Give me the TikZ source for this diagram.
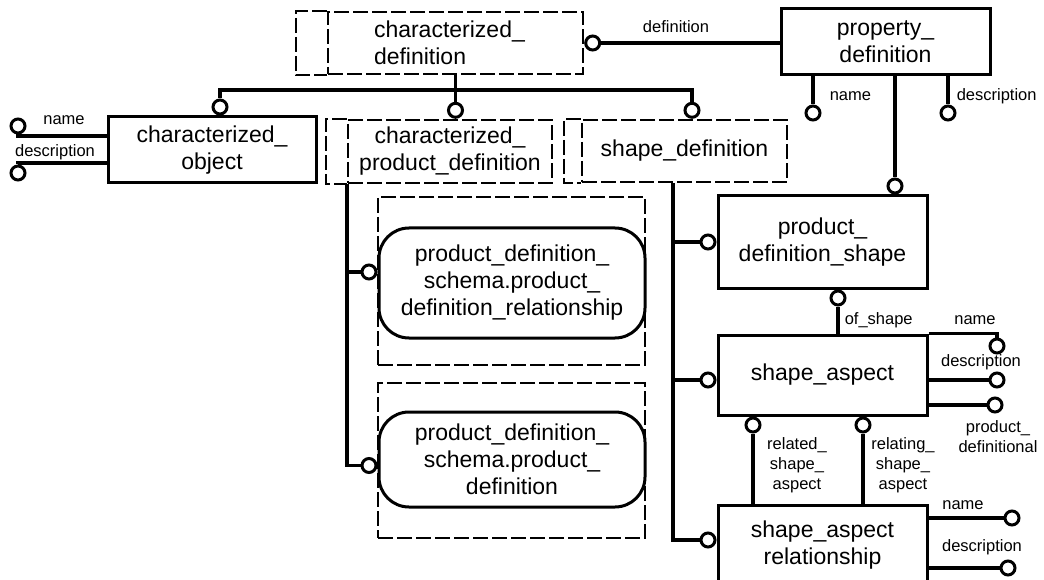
\documentclass[tikz,border=0pt]{standalone}
\usepackage{fontspec}
\setmainfont{Liberation Sans}
\newcommand{\bigtxt}{\fontsize{23}{27}\selectfont}
\newcommand{\smalltxt}{\fontsize{16.5}{20}\selectfont}
\begin{document}
\begin{tikzpicture}[x=1pt,y=-1pt,line width=3.5pt,
		entity/.style={rectangle,draw=black,line width=3pt,align=center,font=\bigtxt,inner sep=0pt},
		dashline/.style={line width=2.4pt,dash pattern=on 15pt off 4pt},
		refbox/.style={entity,dashline},
		schemabox/.style={rectangle,draw=black,dashline},
		rbox/.style={entity,rounded corners=30pt},
		ring/.style={circle,draw=black,fill=white,line width=3pt,minimum size=14pt,inner sep=0pt},
		attr/.style={font=\smalltxt,align=center,inner sep=0pt}]
		\useasboundingbox (0,0) rectangle (1044,580);
		% boxes
		\node[refbox,minimum width=255pt,minimum height=62pt,text width=163pt,align=left](cd) at (455.5,43) {characterized\_\\definition};
		\node[entity,minimum width=209pt,minimum height=66pt](pd) at (885.5,42) {property\_\\definition};
		\node[entity,minimum width=208pt,minimum height=66pt](co) at (212,150) {characterized\_\\object};
		\node[refbox,minimum width=204pt,minimum height=63pt](cpd) at (450,151.5) {characterized\_\\product\_definition};
		\node[refbox,minimum width=205pt,minimum height=62pt](sd) at (684.5,151) {shape\_definition};
		\node[schemabox,minimum width=267pt,minimum height=168pt](schrel) at (511.5,281) {};
		\node[rbox,minimum width=266pt,minimum height=110pt](pdr) at (512,283) {product\_definition\_\\schema.product\_\\definition\_relationship};
		\node[schemabox,minimum width=267pt,minimum height=155pt](schdef) at (511.5,460.5) {};
		\node[rbox,minimum width=266pt,minimum height=95pt](pdd) at (512,459.5) {product\_definition\_\\schema.product\_\\definition};
		\node[entity,minimum width=209pt,minimum height=92pt](pds) at (822.5,242) {product\_\\definition\_shape};
		\node[entity,minimum width=209pt,minimum height=80pt](sa) at (822.5,375) {shape\_aspect};
		\node[entity,minimum width=209pt,minimum height=80pt](sar) at (822.5,545) {shape\_aspect\\relationship};
		\foreach \n/\w in {cd/31,cpd/21,sd/17}
			\draw[dashline] (\n.north west) -- ++(-\w,0) |- (\n.south west);
		% definition
		\node[ring,anchor=west](ringdef) at (cd.east) {};
		\draw (ringdef) -- (ringdef -| pd.west);
		\node[attr](lbldef) at (676,27) {definition};
		% subtypes of characterized_definition
		\coordinate (bar) at (455.5,90);
		\node[ring,anchor=south](ringco) at ([xshift=8pt]co.north) {};
		\node[ring,anchor=south](ringcpd) at (cpd.north -| cd.south) {};
		\node[ring,anchor=south](ringsd) at ([xshift=7.5pt]sd.north) {};
		\draw (cd.south) -- (ringcpd);
		\draw (ringco) -- (ringco |- bar) -- (ringsd |- bar) -- (ringsd);
		% property_definition attributes
		\node[ring](pdname) at (813,113) {};
		\node[ring](pddesc) at (948,113) {};
		\draw (pdname) -- (pdname |- pd.south);
		\draw (pddesc) -- (pddesc |- pd.south);
		\node[attr,anchor=west](lblpdname) at (828,96) {name};
		\node[attr,anchor=west](lblpddesc) at (955,96) {description};
		\node[ring,anchor=south](ringpds) at ([xshift=72.5pt]pds.north) {};
		\draw (ringpds) -- (ringpds |- pd.south);
		% characterized_object attributes
		\node[ring](coname) at (18,126) {};
		\node[ring](codesc) at (18,173) {};
		\draw ([yshift=14pt]co.west) -| (coname);
		\draw ([yshift=-13pt]co.west) -| (codesc);
		\node[attr](lblconame) at (64,120) {name};
		\node[attr](lblcodesc) at (55,152) {description};
		% characterized_product_definition
		\node[ring,anchor=east](ringpdr) at ([yshift=11pt]pdr.west) {};
		\node[ring,anchor=east](ringpdd) at ([yshift=-6pt]pdd.west) {};
		\draw (cpd.south west) |- (ringpdd);
		\draw (ringpdr) -- (ringpdr -| cpd.south west);
		% shape_definition
		\coordinate (sdfoot) at ([xshift=-11.5pt]sd.south);
		\node[ring,anchor=east](ringpdsl) at (pds.west) {};
		\node[ring,anchor=east](ringsa) at ([yshift=-5pt]sa.west) {};
		\node[ring,anchor=east](ringsar) at ([yshift=5pt]sar.west) {};
		\draw (sdfoot) |- (ringsar);
		\draw (ringpdsl) -- (ringpdsl -| sdfoot);
		\draw (ringsa) -- (ringsa -| sdfoot);
		% of_shape
		\node[ring,anchor=north](ringofshape) at ([xshift=15.5pt]pds.south) {};
		\draw (ringofshape) -- (ringofshape |- sa.north);
		\node[attr,anchor=west](lblofshape) at (843,320) {of\_shape};
		% shape_aspect attributes
		\node[ring](saname) at (997,346) {};
		\draw (sa.north east) -- (saname |- sa.north east) -- (saname);
		\node[attr](lblsaname) at (975,320) {name};
		\node[ring](sadesc) at (997,380) {};
		\draw (sadesc) -- (sadesc -| sa.east);
		\node[attr](lblsadesc) at (981,362) {description};
		\node[ring](sapd) at (995,405) {};
		\draw (sapd) -- (sapd -| sa.east);
		\node[attr](lblsapd) at (998,437) {product\_\\definitional};
		% shape_aspect_relationship
		\node[ring,anchor=north](ringrelated) at ([xshift=-69.5pt]sa.south) {};
		\node[ring,anchor=north](ringrelating) at ([xshift=40.5pt]sa.south) {};
		\draw (ringrelated) -- (ringrelated |- sar.north);
		\draw (ringrelating) -- (ringrelating |- sar.north);
		\node[attr](lblrelated) at (797,465) {related\_\\shape\_\\aspect};
		\node[attr](lblrelating) at (903,465) {relating\_\\shape\_\\aspect};
		\node[ring](sarname) at (1012,518) {};
		\draw (sarname) -- (sarname -| sar.east);
		\node[attr](lblsarname) at (963,505) {name};
		\node[ring](sardesc) at (1008,568) {};
		\draw (sardesc) -- (sardesc -| sar.east);
		\node[attr](lblsardesc) at (982,547) {description};
	\end{tikzpicture}
\end{document}
